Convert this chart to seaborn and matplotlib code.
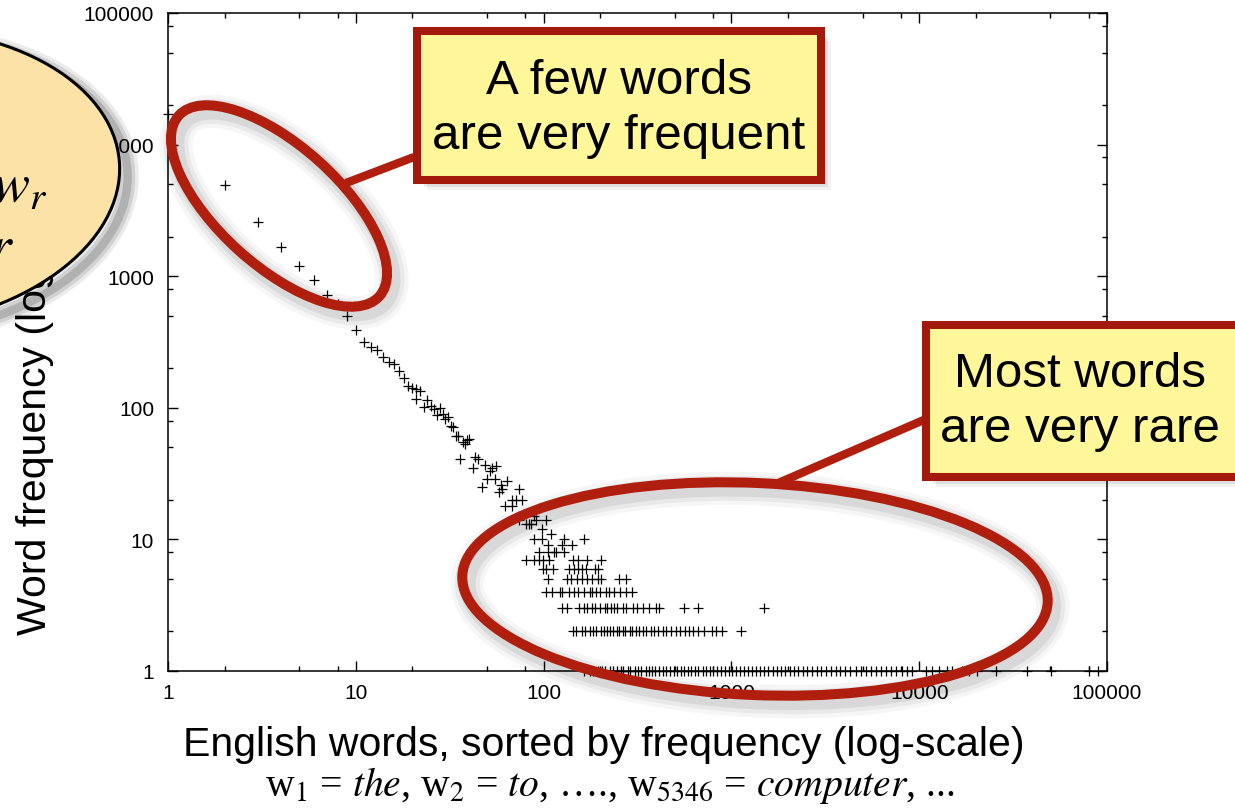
import pandas as pd
import seaborn as sns
import matplotlib.pyplot as plt
from matplotlib.patches import Ellipse, Rectangle
from matplotlib.ticker import FixedLocator, FixedFormatter, LogLocator, NullFormatter

sns.set_style('ticks')
plt.rcParams['font.family'] = ['Liberation Sans', 'DejaVu Sans']
plt.rcParams['mathtext.fontset'] = 'stix'
plt.rcParams['text.color'] = 'black'
plt.rcParams['axes.labelcolor'] = 'black'
plt.rcParams['xtick.color'] = 'black'
plt.rcParams['ytick.color'] = 'black'

# most frequent words (rank, frequency)
head_ranks = [1, 2, 3, 4, 5, 6, 7, 8, 9, 10, 11, 12, 13, 14, 15, 16, 17, 18, 19, 20,
              21, 21, 22, 23, 24, 25, 26, 27, 28, 29, 30, 31, 32, 33, 34, 35, 36, 37, 38, 39, 40,
              42, 43, 45, 47, 49, 50, 52, 53, 55, 56, 58, 59, 60, 62, 64, 68, 68, 71, 74,
              74, 77, 81, 84, 86, 89, 91, 98, 103, 110]
head_freqs = [17000, 4900, 2570, 1670, 1200, 940, 720, 610, 495, 390, 316, 290, 275, 243, 223, 216, 190, 168, 146, 141,
              139, 117, 134, 101, 114, 103, 98, 88, 100, 89, 82, 85, 73, 71, 61, 61, 41, 55, 53, 57, 58,
              35, 42, 41, 25, 37, 29, 33, 35, 29, 36, 23, 26, 24, 18, 28, 20, 18, 20, 24,
              14, 20, 13, 13, 13, 15, 14, 12, 14, 11]

# ranks of the words sitting on each low frequency level
f10_ranks = [89, 98, 129, 165]
f9_ranks = [105, 126, 141]
f8_ranks = [95, 105, 114, 117, 129]
f7_ranks = [81, 89, 95, 99, 107, 143, 152, 171, 203]
f6_ranks = [99, 103, 112, 137, 146, 152, 161, 169, 187, 194]
f5_ranks = [105, 133, 140, 150, 160, 170, 182, 194, 203, 253, 276]
f4_ranks = [103, 111, 122, 126, 137, 146, 152, 165, 176, 182, 191, 199, 216, 224, 238, 254, 276, 295]
f3_ranks = [126, 134, 155, 165, 171, 180, 187, 199, 211, 218, 229, 238, 246, 264, 276, 298, 316, 337,
            366, 397, 414, 562, 661, 1489]
f2_ranks = [143, 148, 161, 166, 176, 184, 191, 201, 210, 218, 227, 233, 245, 251, 264, 272, 287, 297,
            311, 324, 338, 353, 371, 386, 409, 430, 448, 479, 504, 531, 569, 598, 628, 667, 718, 792,
            832, 895, 1130]
f1_ranks = [165, 176, 183, 196, 204, 212, 226, 233, 247, 258, 266, 281, 290, 305, 318, 331, 349, 362,
            380, 394, 412, 433, 451, 470, 492, 515, 540, 561, 590, 612, 640, 668, 702, 731, 768, 801,
            840, 884, 920, 968, 1010, 1060, 1115, 1170, 1230, 1290, 1350, 1420, 1500, 1570, 1660, 1740,
            1830, 1930, 2040, 2150, 2270, 2400, 2540, 2690, 2850, 3010, 3190, 3380, 3590, 3810, 4050,
            4300, 4580, 4870, 5190, 5520, 5880, 6260, 6670, 7100, 7560, 8050, 8570, 9130, 10900, 11700,
            12800, 14100, 15000, 16900, 18500, 20400, 25700, 37500, 50400, 80200, 89600]

levels = [10, 9, 8, 7, 6, 5, 4, 3, 2, 1]
level_ranks = [f10_ranks, f9_ranks, f8_ranks, f7_ranks, f6_ranks, f5_ranks, f4_ranks, f3_ranks, f2_ranks, f1_ranks]

tick_vals = [1, 10, 100, 1000, 10000, 100000]
tick_labels = ['1', '10', '100', '1000', '10000', '100000']

parts = [pd.DataFrame({'rank': head_ranks, 'freq': head_freqs})]
for lev, rks in zip(levels, level_ranks):
    parts.append(pd.DataFrame({'rank': rks, 'freq': [lev] * len(rks)}))
df = pd.concat(parts, ignore_index=True)

W, H = 1235, 812
fig = plt.figure(figsize=(W / 100, H / 100), dpi=100)
ax = fig.add_axes([168 / W, 1 - 672 / H, 939 / W, 658 / H])

sns.scatterplot(data=df, x='rank', y='freq', marker='+', color='black', s=42,
                linewidth=0.9, ax=ax, clip_on=False, legend=False)
ax.set(xscale='log', yscale='log', xlim=(1, 1e5), ylim=(1, 1e5))
for axis in (ax.xaxis, ax.yaxis):
    axis.set_major_locator(FixedLocator(tick_vals))
    axis.set_major_formatter(FixedFormatter(tick_labels))
    axis.set_minor_locator(LogLocator(base=10, subs=(2, 5, 8)))
    axis.set_minor_formatter(NullFormatter())
ax.tick_params(which='both', direction='in', top=True, right=True, width=1.0, color='black', labelsize=15)
ax.tick_params(which='major', length=7)
ax.tick_params(which='minor', length=3.5)
ax.tick_params(axis='y', pad=10)
ax.tick_params(axis='x', pad=9)
for sp in ax.spines.values():
    sp.set_linewidth(1.1)
    sp.set_color('black')

ax.set_xlabel('English words, sorted by frequency (log-scale)', fontsize=29.5)
ax.xaxis.set_label_coords(0.464, -0.111)
ax.xaxis.label.set_va('center')
ax.set_ylabel('Word frequency (log-scale)', fontsize=29.5)
ax.yaxis.label.set(ha='left', va='center', rotation_mode='anchor')
ax.yaxis.set_label_coords(-0.1416, 0.056)

# overlay in pixel coordinates for the callouts
ov = fig.add_axes([0, 0, 1, 1], zorder=5)
ov.set_xlim(0, W)
ov.set_ylim(H, 0)
ov.axis('off')
ov.patch.set_alpha(0)

red = '#B01E0E'
box_red = '#A31A0C'
yellow = '#FFF799'

# speech bubble on the left
for lw, a in [(16, 0.08), (11, 0.11), (6, 0.15)]:
    ov.add_patch(Ellipse((-112, 188), 480, 300, angle=-4, facecolor='none',
                         edgecolor='black', lw=lw, alpha=a, zorder=1))
ov.add_patch(Ellipse((-120, 180), 480, 300, angle=-4, facecolor='#FCE2A6',
                     edgecolor='black', lw=2.2, zorder=2))
ov.text(47, 202, r'$w_r$', ha='right', va='baseline', fontsize=40, zorder=3)
ov.text(14, 264, r'$r$', ha='right', va='baseline', fontsize=40, zorder=3)

# red ellipses with soft shadows
ell_specs = [((279, 207), 270, 120, 42), ((755, 590), 586, 212, 2.6)]
for (cx, cy), w, h, ang in ell_specs:
    for lw, a in [(24, 0.035), (18, 0.05), (12, 0.07)]:
        ov.add_patch(Ellipse((cx + 5, cy + 6), w, h, angle=ang, facecolor='none',
                             edgecolor='black', lw=lw, alpha=a, zorder=4))
    ov.add_patch(Ellipse((cx, cy), w, h, angle=ang, facecolor='none',
                         edgecolor=red, lw=7.2, zorder=5))

# pointer lines
ov.plot([414, 346], [158, 184], color=red, lw=6, solid_capstyle='butt', zorder=6)
ov.plot([926, 776], [420, 485], color=red, lw=6, solid_capstyle='butt', zorder=6)

# callout boxes
boxes = [(417, 32, 404, 149), (926, 326, 330, 152)]
for x0, y0, bw, bh in boxes:
    for d, a in [(10, 0.05), (7, 0.07), (4, 0.09)]:
        ov.add_patch(Rectangle((x0 + d, y0 + d), bw, bh, facecolor='black',
                               edgecolor='none', alpha=a, zorder=7))
    ov.add_patch(Rectangle((x0, y0), bw, bh, facecolor=yellow, edgecolor=box_red,
                           lw=5.8, zorder=8))
ov.text(619, 109, 'A few words\nare very frequent', ha='center', va='center',
        fontsize=35.5, linespacing=1.3, zorder=9)
ov.text(1080, 402, 'Most words\nare very rare', ha='center', va='center',
        fontsize=35.5, linespacing=1.3, zorder=9)

ov.text(610, 786, r'w$_1$ = $the$, w$_2$ = $to$, …., w$_{5346}$ = $computer$, ...',
        family='Liberation Serif', fontsize=28.5, ha='center', va='center', zorder=9)

fig.savefig('out.png', dpi=100)
